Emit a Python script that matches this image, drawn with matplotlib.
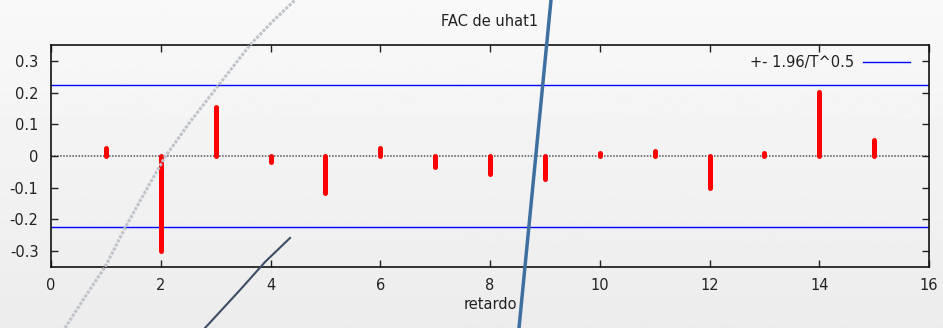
import numpy as np
import matplotlib.pyplot as plt

# autocorrelations of uhat1, lags 1..15
lags = [1, 2, 3, 4, 5, 6, 7, 8, 9, 10, 11, 12, 13, 14, 15]
acf = [0.025, -0.300, 0.155, -0.020, -0.117, 0.024, -0.036, -0.057, -0.072,
       0.010, 0.015, -0.102, 0.010, 0.202, 0.050]
T = 76
band = 1.96 / np.sqrt(T)

plt.rcParams['font.family'] = ['DejaVu Sans']
fig = plt.figure(figsize=(9.43, 3.28), dpi=100)

# background gradient
bg = fig.add_axes([0, 0, 1, 1], zorder=-10)
grad = np.linspace(0.975, 0.925, 256).reshape(-1, 1)
bg.imshow(grad, cmap='gray', vmin=0, vmax=1, aspect='auto', extent=[0, 1, 0, 1])
bg.set_axis_off()

ax = fig.add_axes([51 / 943, 1 - 267 / 328, 878 / 943, 222 / 328])
ax.patch.set_alpha(0)

ax.axhline(0, color='#555555', lw=1.1, ls=(0, (1, 1)), zorder=1)
ax.axhline(band, color='#0000ff', lw=1, label='+- 1.96/T^0.5', zorder=2)
ax.axhline(-band, color='#0000ff', lw=1, zorder=2)
ax.vlines(lags, 0, acf, color='#ff0000', lw=3.6, capstyle='round', zorder=3)

ax.set_xlim(0, 16)
ax.set_ylim(-0.35, 0.35)
ax.set_xticks(range(0, 17, 2))
ax.set_yticks([-0.3, -0.2, -0.1, 0, 0.1, 0.2, 0.3])
ax.set_yticklabels(['-0.3', '-0.2', '-0.1', '0', '0.1', '0.2', '0.3'])
ax.tick_params(direction='in', top=True, right=True, length=5, width=1,
               labelsize=10.5, colors='#222222', pad=8)
ax.tick_params(axis='y', pad=9)
for s in ax.spines.values():
    s.set_linewidth(1.2)
    s.set_color('#111111')

ax.set_title('FAC de uhat1', fontsize=10.5, color='#222222', pad=14)
ax.set_xlabel('retardo', fontsize=10.5, color='#222222', labelpad=3)

leg = ax.legend(loc='upper right', frameon=False, fontsize=10.5, markerfirst=False,
                handlelength=3.2, handletextpad=0.6, borderaxespad=0.3,
                bbox_to_anchor=(0.99, 1.0))
for t in leg.get_texts():
    t.set_color('#222222')

# slide decorations overlaid on the picture
cx = np.array([65, 85, 105, 125, 145, 165, 190, 218, 250, 272, 295])
cy = np.array([328, 297, 267, 228, 192, 157, 122, 86, 45, 22, 0])
fig.add_artist(plt.Line2D(cx / 943, 1 - cy / 328, transform=fig.transFigure,
                          color='#bfc3ca', lw=2.2, ls=(0, (1, 0.5)), zorder=5))
fig.add_artist(plt.Line2D(np.array([205, 240, 265, 290]) / 943, 1 - np.array([328, 290, 262, 238]) / 328,
                          transform=fig.transFigure, color='#3d4d66', lw=1.5, zorder=5))
fig.add_artist(plt.Line2D(np.array([551, 519]) / 943, 1 - np.array([0, 328]) / 328,
                          transform=fig.transFigure, color='#3f6fa0', lw=2.5, zorder=5))

fig.savefig('out.png', dpi=100)
